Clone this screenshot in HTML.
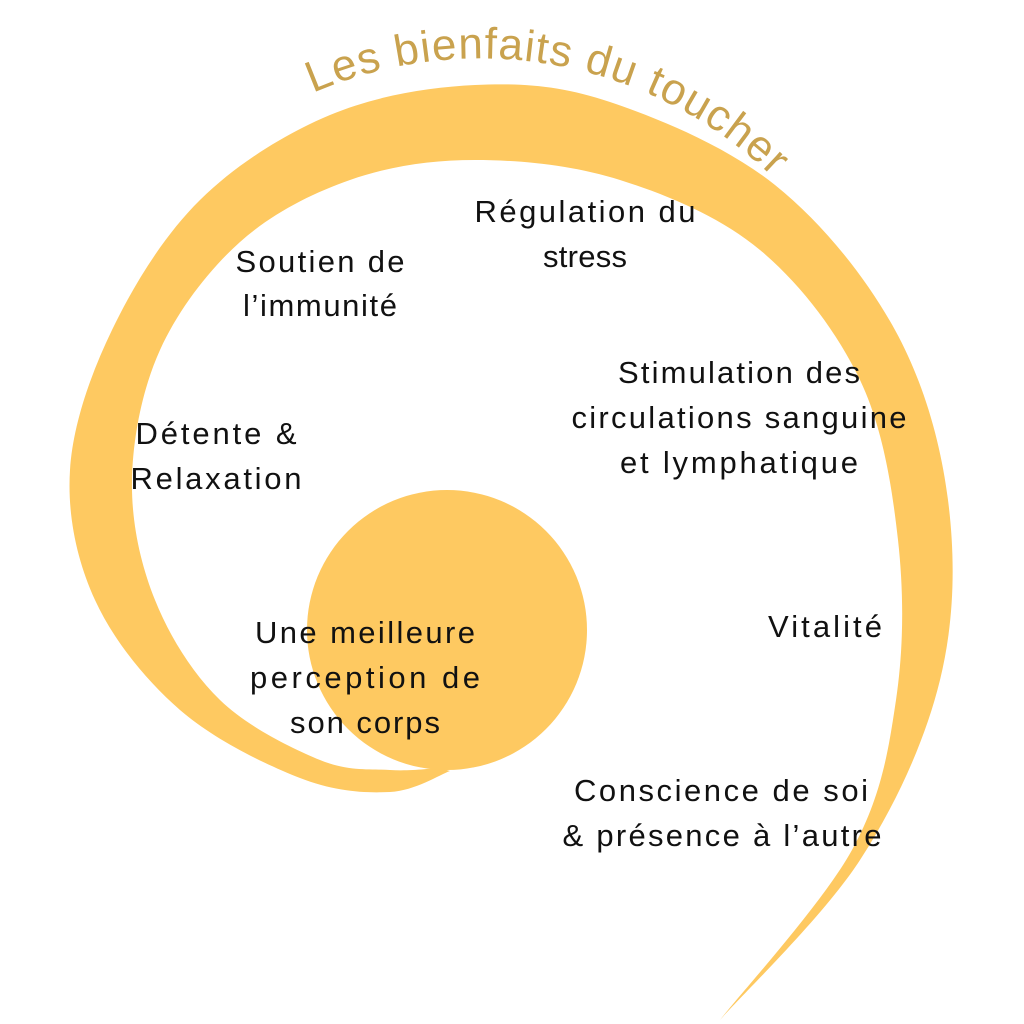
<!DOCTYPE html>
<html><head><meta charset="utf-8"><style>
html,body{margin:0;padding:0;background:#fff}
svg{display:block}
text{font-family:"Liberation Sans",sans-serif}
.t{font-size:31px;fill:#111;text-anchor:middle}
</style></head><body>
<svg id="s" width="1024" height="1024" viewBox="0 0 1024 1024">
<rect width="1024" height="1024" fill="#fff"/>
<path id="sp" fill="#FEC961" d=""/>
<circle cx="447" cy="630" r="140" fill="#FEC961"/>
<defs><path id="arc" d="M313,93 A420,420 0 0,1 900,480"/></defs>
<text font-size="44" fill="#C9A24E"><textPath href="#arc" textLength="495" lengthAdjust="spacing">Les bienfaits du toucher</textPath></text>
<text class="t" x="585" y="222" textLength="221">Régulation du</text>
<text class="t" x="585" y="267" textLength="84">stress</text>
<text class="t" x="320" y="272" textLength="169">Soutien de</text>
<text class="t" x="320" y="316" textLength="154">l’immunité</text>
<text class="t" x="739" y="383" textLength="242">Stimulation des</text>
<text class="t" x="739" y="428" textLength="335">circulations sanguine</text>
<text class="t" x="739" y="473" textLength="238">et lymphatique</text>
<text class="t" x="216" y="444" textLength="161">Détente &amp;</text>
<text class="t" x="216" y="489" textLength="171">Relaxation</text>
<text class="t" x="365" y="643" textLength="220">Une meilleure</text>
<text class="t" x="365" y="688" textLength="230">perception de</text>
<text class="t" x="365" y="733" textLength="150">son corps</text>
<text class="t" x="825" y="637" textLength="114">Vitalité</text>
<text class="t" x="721" y="801" textLength="294">Conscience de soi</text>
<text class="t" x="722" y="846" textLength="319">&amp; présence à l’autre</text>
</svg>
<script>
var A=[[720,1020],[860,860],[940,680],[948,500],[895,330],[775,185],[610,102],[475,85],[330,115],[200,200],[112,330],[70,470],[95,600],[180,710],[300,778],[390,792],[450,771]];
var B=[[440,768],[390,770],[320,760],[220,700],[155,600],[132,480],[160,350],[240,242],[350,180],[475,160],[620,180],[760,250],[860,380],[898,540],[896,700],[852,850],[720,1020]];
function cr(P,start){
var d=start?"M"+P[0][0]+","+P[0][1]:" L"+P[0][0]+","+P[0][1];
for(var i=0;i<P.length-1;i++){
var p0=P[Math.max(i-1,0)],p1=P[i],p2=P[i+1],p3=P[Math.min(i+2,P.length-1)];
var c1=[p1[0]+(p2[0]-p0[0])/6,p1[1]+(p2[1]-p0[1])/6];
var c2=[p2[0]-(p3[0]-p1[0])/6,p2[1]-(p3[1]-p1[1])/6];
d+=" C"+c1[0].toFixed(1)+","+c1[1].toFixed(1)+" "+c2[0].toFixed(1)+","+c2[1].toFixed(1)+" "+p2[0]+","+p2[1];
}
return d;}
document.getElementById("sp").setAttribute("d",cr(A,true)+cr(B,false)+"Z");
</script>
</body></html>
